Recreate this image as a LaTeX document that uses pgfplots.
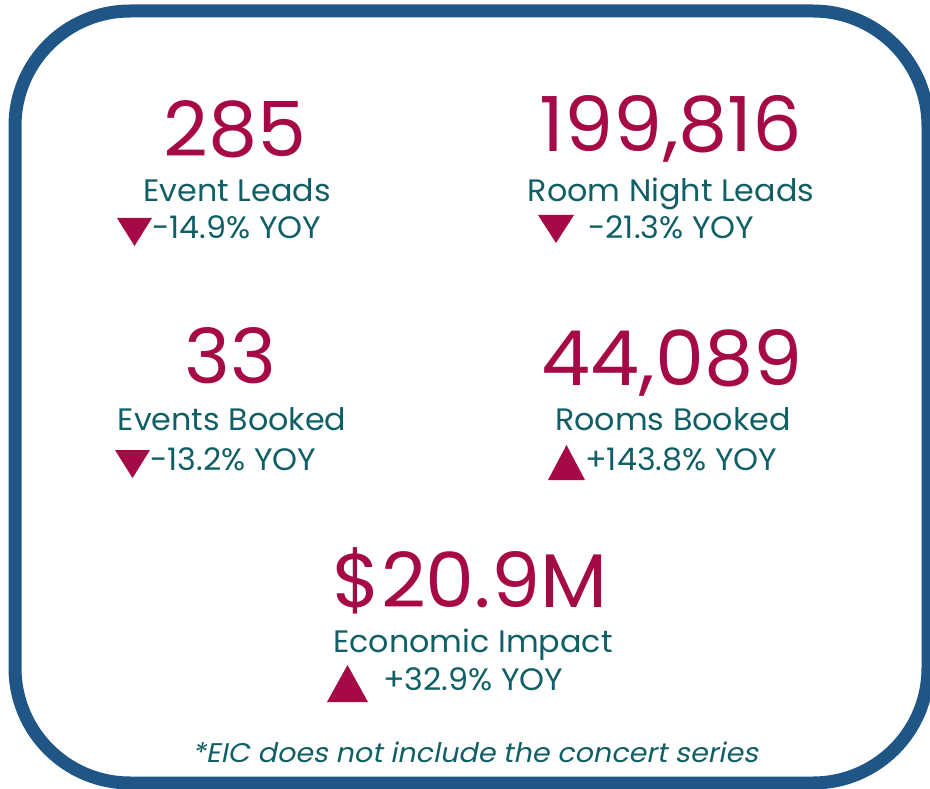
\documentclass[border=0pt]{standalone}
\usepackage{pgfplots}
\pgfplotsset{compat=1.18}
\usepackage{fontspec}
\setmainfont{Poppins}[FakeStretch=1.025]
\newfontfamily\footfont[FakeSlant=0.2,FakeStretch=1.06]{Poppins}
\definecolor{crim}{HTML}{A50A46}
\definecolor{tealc}{HTML}{115F66}
\definecolor{bord}{HTML}{1F5686}
\newcommand{\bignum}{\fontsize{76}{80}\selectfont\color{crim}}
\newcommand{\lab}{\fontsize{31}{34}\selectfont\color{tealc}}
\begin{document}
\begin{tikzpicture}
\begin{axis}[name=ax, at={(0,0)}, anchor=south west, scale only axis,
  width=930pt, height=789pt, xmin=0, xmax=930, ymin=0, ymax=789,
  y dir=reverse, hide axis, clip=false]
\draw[color=bord, line width=13pt, rounded corners=115pt] (axis cs:15,11) rectangle (axis cs:928,783);
% triangles
\addplot[fill=crim, draw=none] coordinates {(117,218) (152,218) (134.5,246) (117,218)};
\addplot[fill=crim, draw=none] coordinates {(538,215) (574,215) (556,243) (538,215)};
\addplot[fill=crim, draw=none] coordinates {(115,450) (150,450) (132.5,478) (115,450)};
\addplot[fill=crim, draw=none] coordinates {(548,480) (585,480) (566.5,445) (548,480)};
\addplot[fill=crim, draw=none] coordinates {(327,702) (368,702) (347.5,665) (327,702)};
% big numbers
\node[inner sep=0, anchor=base] at (axis cs:235,157) {\bignum 285};
\node[inner sep=0, anchor=base] at (axis cs:671,152) {\bignum 199,816};
\node[inner sep=0, anchor=base] at (axis cs:230,383) {\bignum 33};
\node[inner sep=0, anchor=base] at (axis cs:672,385) {\bignum 44,089};
\node[inner sep=0, anchor=base] at (axis cs:470,607) {\bignum \$20.9M};
% labels
\node[inner sep=0, anchor=base] at (axis cs:237,202) {\lab Event Leads};
\node[inner sep=0, anchor=base] at (axis cs:671,202) {\lab Room Night Leads};
\node[inner sep=0, anchor=base] at (axis cs:232,430) {\lab Events Booked};
\node[inner sep=0, anchor=base] at (axis cs:673,430) {\lab Rooms Booked};
\node[inner sep=0, anchor=base] at (axis cs:473,652) {\lab Economic Impact};
% yoy
\node[inner sep=0, anchor=base west] at (axis cs:152,239) {\lab -14.9\% YOY};
\node[inner sep=0, anchor=base west] at (axis cs:588,239) {\lab -21.3\% YOY};
\node[inner sep=0, anchor=base west] at (axis cs:150,470) {\lab -13.2\% YOY};
\node[inner sep=0, anchor=base west] at (axis cs:585,470) {\lab +143.8\% YOY};
\node[inner sep=0, anchor=base west] at (axis cs:383,690) {\lab +32.9\% YOY};
% footnote
\node[inner sep=0, anchor=base] at (axis cs:475,762) {\footfont\fontsize{27}{29}\selectfont\color{tealc}*EIC does not include the concert series};
\end{axis}
\pgfresetboundingbox
\useasboundingbox (ax.south west) rectangle (ax.north east);
\end{tikzpicture}
\end{document}
